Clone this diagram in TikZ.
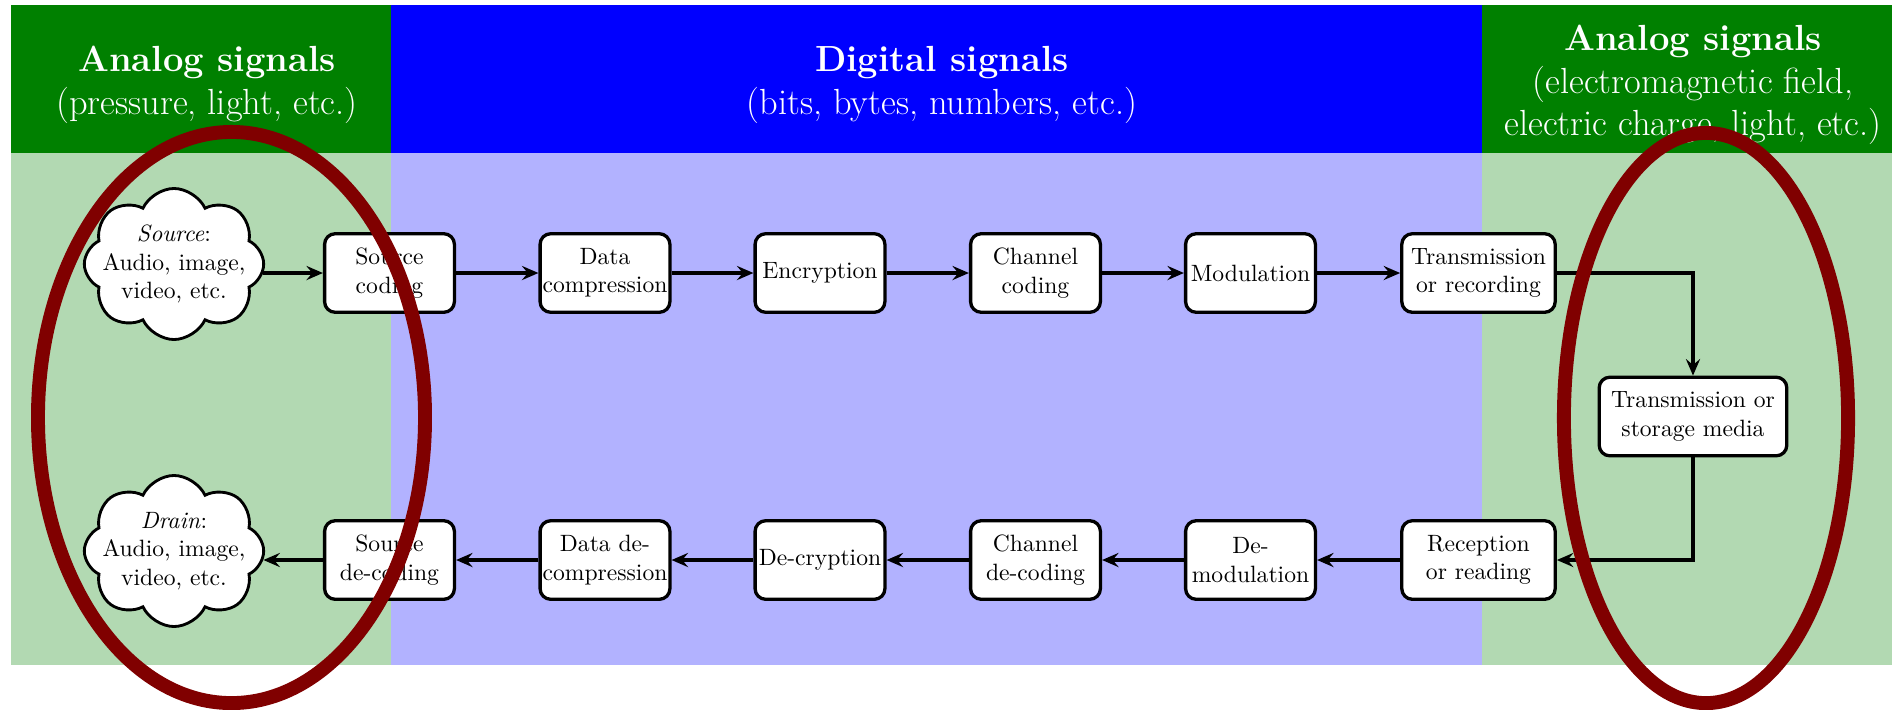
\documentclass[tikz,border=0pt]{standalone}
\usetikzlibrary{shapes.symbols,arrows.meta}
\definecolor{hdgreen}{rgb}{0,0.5,0}
\definecolor{ellred}{rgb}{0.5,0,0}
\tikzset{
  hdr/.style={text=white, align=center, inner sep=0pt, font=\fontsize{15.4}{18}\selectfont},
  box/.style={draw, fill=white, line width=1.4pt, rounded corners=4.5pt, align=center,
    minimum width=55pt, minimum height=33.3pt, inner xsep=1pt},
  widebox/.style={box, minimum width=65pt},
  mediabox/.style={box, minimum width=79.5pt},
  cl/.style={cloud, draw, fill=white, line width=1.2pt, cloud puffs=8, cloud puff arc=130,
    cloud ignores aspect, minimum width=76pt, minimum height=64pt, inner sep=-8pt, align=center},
  arr/.style={line width=1.4pt, -{Stealth[length=7pt,width=6pt,inset=2.5pt]}},
  ell/.style={draw=ellred, line width=5.9pt}
}
\begin{document}
\begin{tikzpicture}[x=0.4237pt,y=-0.4237pt]
\clip (0,0) rectangle (1892,709);
% backgrounds
\fill[hdgreen] (11,5) rectangle (391,153);
\fill[blue] (391,5) rectangle (1482,153);
\fill[hdgreen] (1482,5) rectangle (1910,153);
\fill[hdgreen!30] (11,153) rectangle (391,665);
\fill[blue!30] (391,153) rectangle (1482,665);
\fill[hdgreen!30] (1482,153) rectangle (1910,665);
% headers
\node[hdr] (hL) at (207,85) {\textbf{Analog signals}\\(pressure, light, etc.)};
\node[hdr] (hM) at (942,85) {\textbf{Digital signals}\\(bits, bytes, numbers, etc.)};
\node[hdr] (hR) at (1693,85) {\textbf{Analog signals}\\(electromagnetic field,\\electric charge, light, etc.)};
% top row
\node[box] (sc) at (389.5,273) {Source\\coding};
\node[box] (dc) at (605,273) {Data\\compression};
\node[box] (en) at (820,273) {Encryption};
\node[box] (cc) at (1035.5,273) {Channel\\coding};
\node[box] (mo) at (1250.5,273) {Modulation};
\node[widebox] (tr) at (1478.5,273) {Transmission\\or recording};
% media
\node[mediabox] (sm) at (1693,416.5) {Transmission or\\storage media};
% bottom row
\node[box] (sd) at (389.5,560) {Source\\de-coding};
\node[box] (dd) at (605,560) {Data de-\\compression};
\node[box] (de) at (820,560) {De-cryption};
\node[box] (cd) at (1035.5,560) {Channel\\de-coding};
\node[box] (dm) at (1250.5,560) {De-\\modulation};
\node[widebox] (rr) at (1478.5,560) {Reception\\or reading};
% clouds
\node[cl] (src) at (174,264) {\textit{Source}:\\Audio, image,\\video, etc.};
\node[cl] (drn) at (174,551) {\textit{Drain}:\\Audio, image,\\video, etc.};
% connectors
\draw[arr] (sc.west -| src.-6) -- (sc.west);
\draw[arr] (sc) -- (dc);
\draw[arr] (dc) -- (en);
\draw[arr] (en) -- (cc);
\draw[arr] (cc) -- (mo);
\draw[arr] (mo) -- (tr);
\draw[arr] (tr.east) -| (sm.north);
\draw[arr] (sm.south) |- (rr.east);
\draw[arr] (rr) -- (dm);
\draw[arr] (dm) -- (cd);
\draw[arr] (cd) -- (de);
\draw[arr] (de) -- (dd);
\draw[arr] (dd) -- (sd);
\draw[arr] (sd.west) -- (sd.west -| drn.-6);
% highlight ellipses
\draw[ell] (231.5,417.5) ellipse [x radius=82pt, y radius=121pt];
\draw[ell] (1706,418) ellipse [x radius=60.2pt, y radius=120.8pt];
\end{tikzpicture}
\end{document}
